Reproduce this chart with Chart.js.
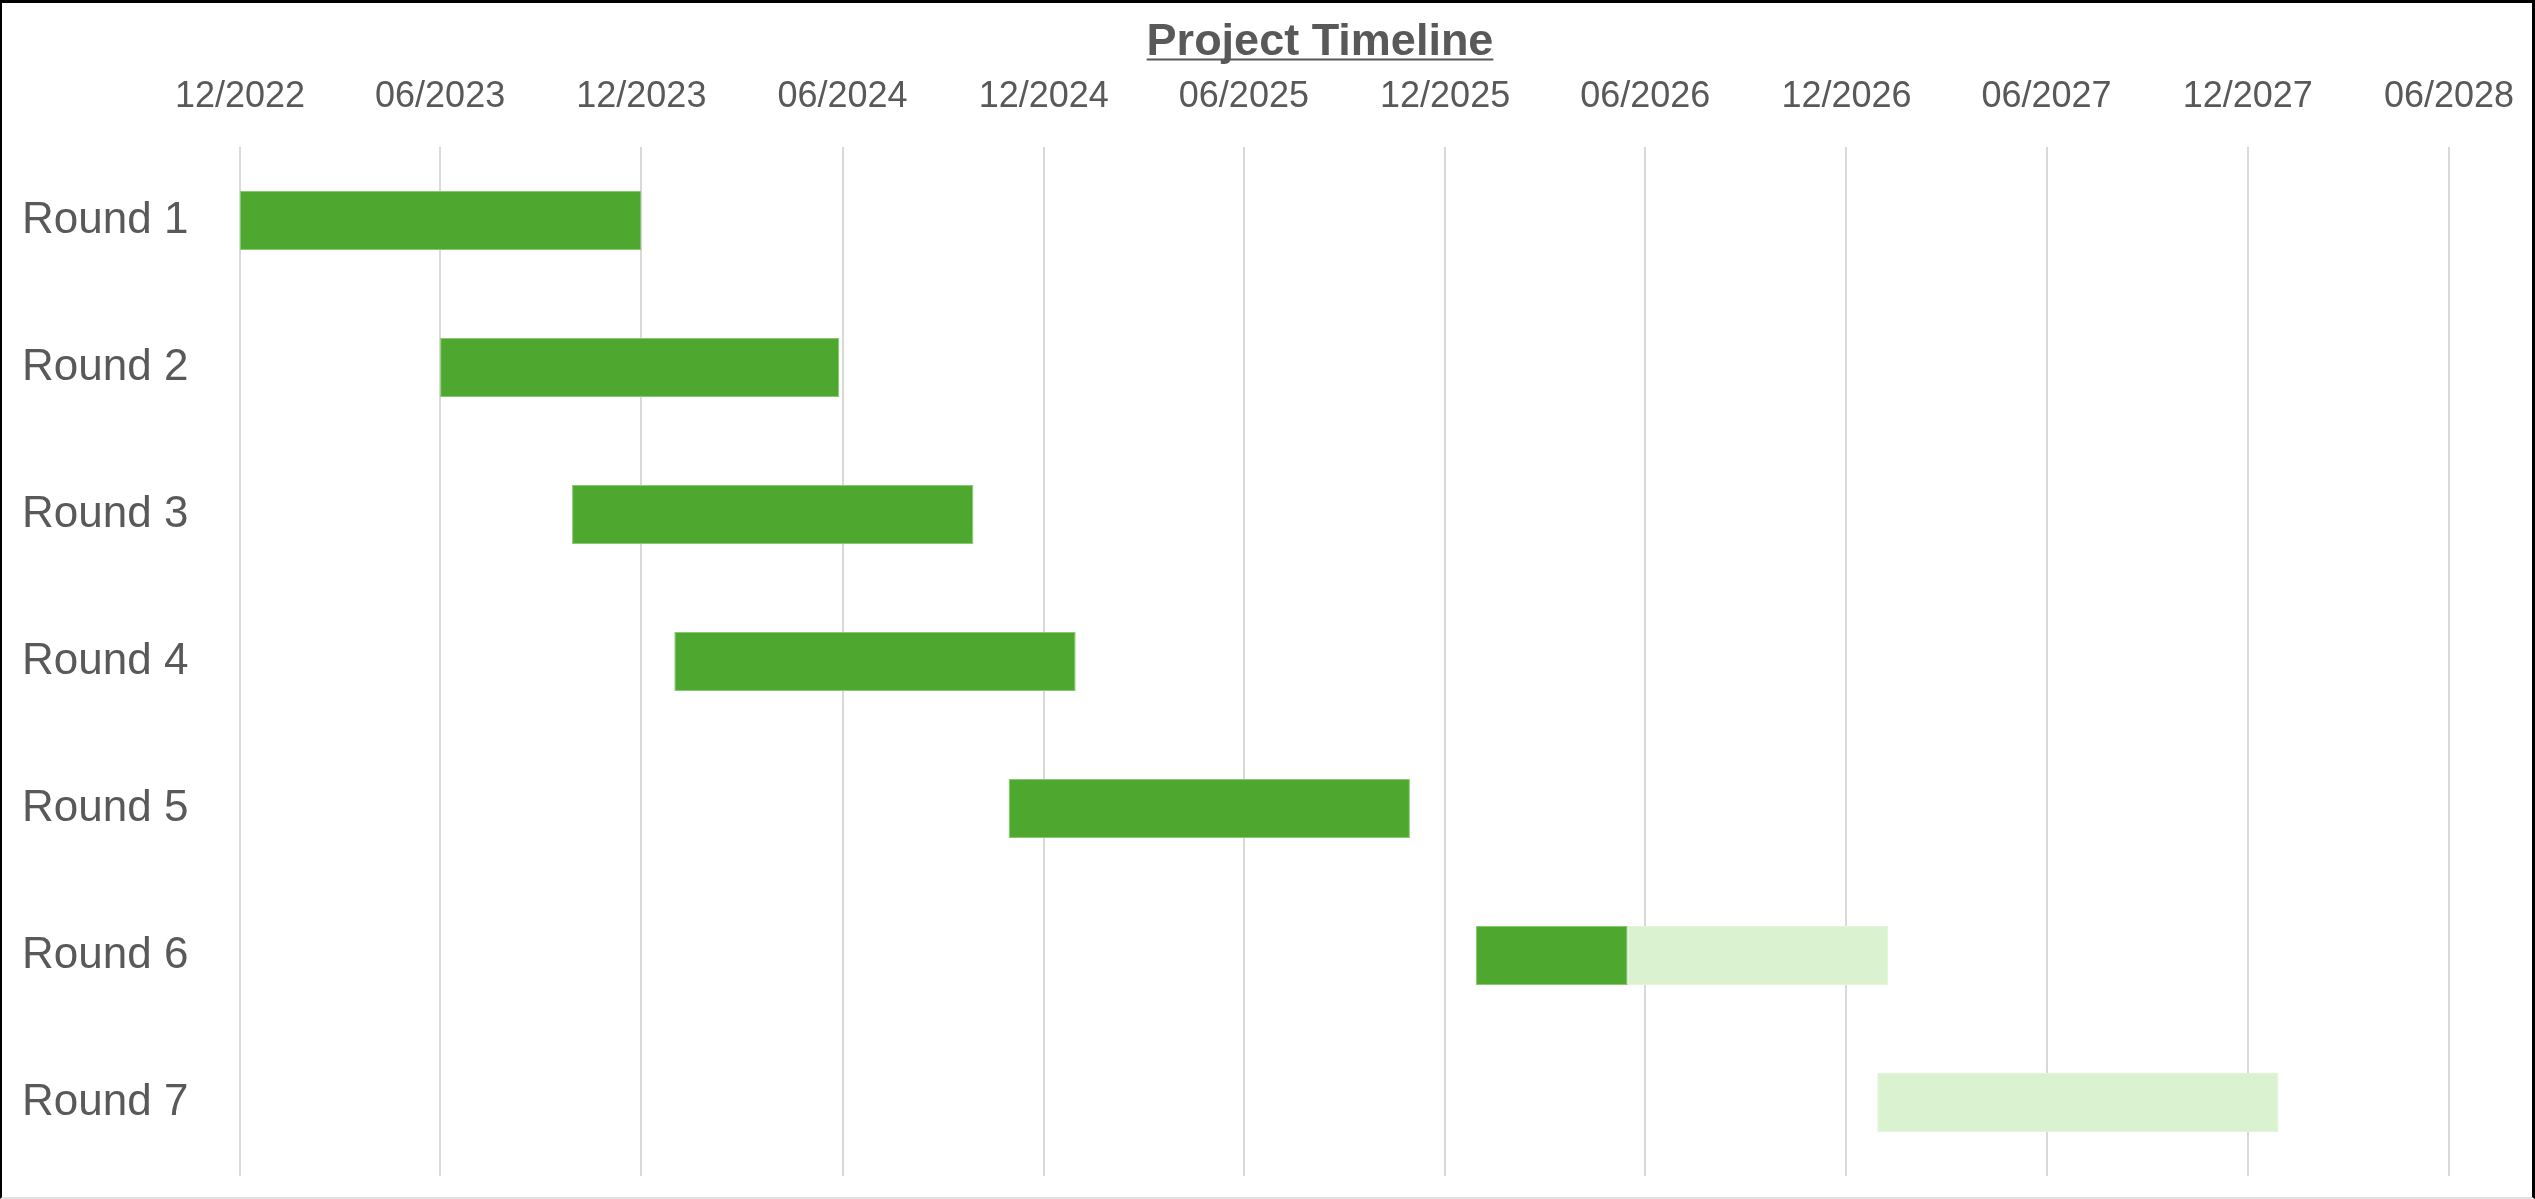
<!DOCTYPE html>
<html lang="en">
	<head>
		<meta charset="utf-8" />
		<title>Project Timeline</title>
		<script src="https://cdn.jsdelivr.net/npm/chart.js@4.4.1/dist/chart.umd.min.js"></script>
		<style>
			html, body { margin: 0; padding: 0; background: #fff; overflow: hidden; }
			#frame {
				position: absolute; left: 0; top: 0;
				width: 2535px; height: 1199px;
				box-sizing: border-box;
				border-top: 3px solid #000;
				border-left: 2px solid #000;
				border-right: 3px solid #000;
				border-bottom: 2px solid #e3e3e3;
			}
			#myChart { display: block; }
		</style>
	</head>

	<body>
		<div id="frame">
			<canvas id="myChart" width="2530" height="1194"></canvas>
		</div>

		<script>
			// rows of the gantt
			var rounds = ["Round 1", "Round 2", "Round 3", "Round 4", "Round 5", "Round 6", "Round 7"];

			// dark green = done, light green = still planned
			var doneStart = ["2022-12-01", "2023-06-01", "2023-09-29", "2023-12-31", "2024-10-30", "2025-12-29", null];
			var doneEnd   = ["2023-12-01", "2024-05-29", "2024-09-28", "2024-12-30", "2025-10-30", "2026-05-16", null];
			var planStart = [null, null, null, null, null, "2026-05-16", "2026-12-29"];
			var planEnd   = [null, null, null, null, null, "2027-01-08", "2027-12-29"];

			// axis ticks, every 6 months
			var tickDates = ["2022-12-01", "2023-06-01", "2023-12-01", "2024-06-01", "2024-12-01", "2025-06-01",
				"2025-12-01", "2026-06-01", "2026-12-01", "2027-06-01", "2027-12-01", "2028-06-01"];

			function toRange(starts, ends) {
				return starts.map(function (s, i) {
					if (s === null) return null;
					return [Date.parse(s), Date.parse(ends[i])];
				});
			}

			var textGrey = "#595959";
			var fontName = "'Liberation Sans', Arial, sans-serif";

			// Excel style underline under the title + nudge title centre
			var titleUnderline = {
				id: "titleUnderline",
				afterLayout: function (chart) {
					var tb = chart.titleBlock;
					var w = tb.right - tb.left;
					var centre = 1318;
					tb.left = centre - w / 2;
					tb.right = centre + w / 2;
				},
				afterDraw: function (chart) {
					var tb = chart.titleBlock;
					var ctx = chart.ctx;
					var opts = chart.options.plugins.title;
					ctx.save();
					ctx.font = "bold 45px " + fontName;
					ctx.textBaseline = "middle";
					var w = ctx.measureText(opts.text).width;
					var base = ctx.measureText("T").actualBoundingBoxDescent;
					var midY = tb.top + opts.padding.top + 45 * 1.2 / 2;
					var cx = (tb.left + tb.right) / 2;
					ctx.strokeStyle = textGrey;
					ctx.lineWidth = 2;
					ctx.beginPath();
					ctx.moveTo(cx - w / 2, midY + base + 4);
					ctx.lineTo(cx + w / 2, midY + base + 4);
					ctx.stroke();
					ctx.restore();
				}
			};

			var ctx = document.getElementById("myChart").getContext("2d");
			var myChart = new Chart(ctx, {
				type: "bar",
				data: {
					labels: rounds,
					datasets: [
						{
							label: "Done",
							data: toRange(doneStart, doneEnd),
							backgroundColor: "#4EA72E",
							borderColor: "#86C96F",
							borderWidth: 1,
							borderSkipped: false,
							grouped: false,
							barPercentage: 0.4,
							categoryPercentage: 1,
						},
						{
							label: "Planned",
							data: toRange(planStart, planEnd),
							backgroundColor: "#DAF2D0",
							borderColor: "#E2F5DA",
							borderWidth: 1,
							borderSkipped: false,
							grouped: false,
							barPercentage: 0.4,
							categoryPercentage: 1,
						},
					],
				},
				options: {
					indexAxis: "y",
					responsive: false,
					animation: false,
					devicePixelRatio: 1,
					layout: {
						padding: { left: 20, top: 0, right: 83, bottom: 21 },
					},
					plugins: {
						legend: { display: false },
						tooltip: { enabled: false },
						title: {
							display: true,
							text: "Project Timeline",
							color: textGrey,
							font: { family: fontName, size: 45, weight: "bold" },
							padding: { top: 13, bottom: 0 },
						},
					},
					scales: {
						x: {
							type: "linear",
							position: "top",
							min: Date.parse(tickDates[0]),
							max: Date.parse(tickDates[tickDates.length - 1]),
							afterBuildTicks: function (scale) {
								scale.ticks = tickDates.map(function (d) {
									return { value: Date.parse(d) };
								});
							},
							afterFit: function (scale) {
								scale.height = 77;
							},
							grid: {
								color: "#D9D9D9",
								lineWidth: 2,
								drawTicks: true,
								tickLength: 28,
								tickColor: "rgba(0,0,0,0)",
							},
							border: { display: false },
							ticks: {
								autoSkip: false,
								maxRotation: 0,
								padding: 0,
								color: textGrey,
								font: { family: fontName, size: 36 },
								callback: function (v) {
									var d = new Date(v);
									var mm = String(d.getUTCMonth() + 1).padStart(2, "0");
									return mm + "/" + d.getUTCFullYear();
								},
							},
						},
						y: {
							afterFit: function (scale) {
								scale.width = 218;
							},
							grid: { display: false, drawTicks: false },
							border: { display: false },
							ticks: {
								padding: 0,
								crossAlign: "far",
								color: textGrey,
								font: { family: fontName, size: 44, lineHeight: 0.9 },
							},
						},
					},
				},
				plugins: [titleUnderline],
			});
		</script>
	</body>
</html>
